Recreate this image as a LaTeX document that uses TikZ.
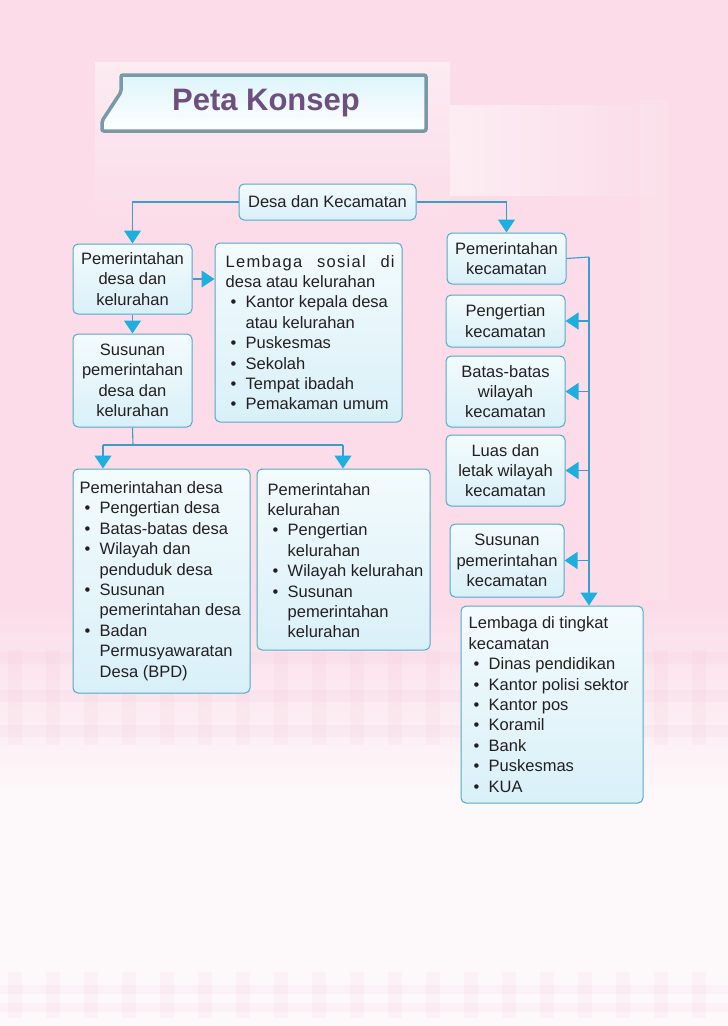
\documentclass[tikz,border=0pt]{standalone}
\usepackage{fontspec}
\setmainfont{Liberation Sans}
\usetikzlibrary{arrows.meta,calc}
\definecolor{pinkbg}{HTML}{FBDCE8}
\definecolor{pinklt}{HTML}{FDF9FB}
\definecolor{plaid}{HTML}{F3BFD3}
\definecolor{boxline}{HTML}{52AACB}
\definecolor{boxtop}{HTML}{F3FBFD}
\definecolor{boxbot}{HTML}{D9F0F8}
\definecolor{linec}{HTML}{3D9CC8}
\definecolor{arrc}{HTML}{1DB0DE}
\definecolor{txtc}{HTML}{231F20}
\definecolor{tabline}{HTML}{7A98A8}
\definecolor{tabfill}{HTML}{DDF5FB}
\definecolor{titlec}{HTML}{6E4F80}
\newcommand\bl{\hspace*{5pt}\makebox[15pt][l]{\textbullet}}
\newcommand\ii{\hspace*{20pt}}
\begin{document}
\begin{tikzpicture}[x=1pt,y=-1pt,
  box/.style={draw=boxline, line width=1pt, rounded corners=5pt, top color=boxtop, bottom color=boxbot, inner sep=0pt, text=txtc, align=center, font=\fontsize{16.5}{20.4}\selectfont},
  txt/.style={inner sep=0pt, align=left, text=txtc, font=\fontsize{16.5}{20.4}\selectfont},
  conn/.style={draw=linec, line width=1.1pt},
  arr/.style={conn, -{Triangle[width=17pt,length=13pt,color=arrc]}}]
% ---------- background ----------
\path[use as bounding box] (0,0) rectangle (728,1026);
\fill[pinkbg] (0,0) rectangle (728,1026);
\shade[top color=pinkbg, bottom color=pinklt] (0,600) rectangle (728,800);
\fill[pinklt] (0,800) rectangle (728,1026);
\shade[top color=white, bottom color=pinkbg, opacity=0.45] (95,62) rectangle (450,230);
\shade[left color=white, right color=pinkbg, opacity=0.5] (450,105) rectangle (665,195);
\fill[white, opacity=0.12] (640,100) rectangle (668,600);
\foreach \i in {0,...,19} {
  \fill[plaid, opacity=0.13] (8+38*\i,650) rectangle (22+38*\i,745);
  \fill[plaid, opacity=0.12] (8+38*\i,972) rectangle (22+38*\i,1018);
}
\foreach \yy in {652,690,725} {\fill[plaid, opacity=0.12] (0,\yy) rectangle (728,\yy+12);}
\foreach \yy in {985,1003} {\fill[plaid, opacity=0.12] (0,\yy) rectangle (728,\yy+9);}
% ---------- title tab ----------
\path[draw=tabline, line width=3.5pt, top color=tabfill, bottom color=white, rounded corners=2pt]
  (121,75) -- (426,75) -- (426,131) -- (102,131) -- (102,121) -- (121,92) -- cycle;
\node[text=titlec, font=\fontsize{31}{31}\bfseries] (title) at (266,103) {Peta Konsep};
% ---------- boxes ----------
\node[box, minimum width=177pt, minimum height=36pt] (dk) at (327.5,202) {Desa dan Kecamatan};
\node[box, minimum width=119pt, minimum height=70pt] (pdk) at (132.5,279) {Pemerintahan\\desa dan\\kelurahan};
\node[box, minimum width=187pt, minimum height=179pt] (ls) at (308.5,332.5) {};
\node[txt, anchor=west] (lst) at ([xshift=11pt]ls.west)
  {\makebox[169pt][s]{\addfontfeature{LetterSpace=8}Lembaga sosial di}\\
   desa atau kelurahan\\
   \bl Kantor kepala desa\\
   \ii atau kelurahan\\
   \bl Puskesmas\\
   \bl Sekolah\\
   \bl Tempat ibadah\\
   \bl Pemakaman umum};
\node[box, minimum width=119pt, minimum height=93pt] (spdk) at (132.5,380.5) {Susunan\\pemerintahan\\desa dan\\kelurahan};
\node[box, minimum width=177pt, minimum height=224pt] (pd) at (161.5,581) {};
\node[txt, anchor=west] (pdt) at ([xshift=7pt]pd.west)
  {Pemerintahan desa\\
   \bl Pengertian desa\\
   \bl Batas-batas desa\\
   \bl Wilayah dan\\
   \ii penduduk desa\\
   \bl Susunan\\
   \ii pemerintahan desa\\
   \bl Badan\\
   \ii Permusyawaratan\\
   \ii Desa (BPD)};
\node[box, minimum width=173pt, minimum height=181pt] (pk) at (343.5,559.5) {};
\node[txt, anchor=west] (pkt) at ([xshift=11pt,yshift=-1pt]pk.west)
  {Pemerintahan\\
   kelurahan\\
   \bl Pengertian\\
   \ii kelurahan\\
   \bl Wilayah kelurahan\\
   \bl Susunan\\
   \ii pemerintahan\\
   \ii kelurahan};
\node[box, minimum width=119pt, minimum height=51pt] (pkec) at (506.5,258.5) {Pemerintahan\\kecamatan};
\node[box, minimum width=119pt, minimum height=52pt] (pgk) at (505.5,321) {Pengertian\\kecamatan};
\node[box, minimum width=119pt, minimum height=71pt] (bbw) at (505.5,391.5) {Batas-batas\\wilayah\\kecamatan};
\node[box, minimum width=119pt, minimum height=71pt] (lwk) at (505.5,470.5) {Luas dan\\letak wilayah\\kecamatan};
\node[box, minimum width=114pt, minimum height=73pt] (spk) at (507,560.5) {Susunan\\pemerintahan\\kecamatan};
\node[box, minimum width=182pt, minimum height=197pt] (ltk) at (552,704.5) {};
\node[txt, anchor=west] (ltkt) at ([xshift=8pt]ltk.west)
  {Lembaga di tingkat\\
   kecamatan\\
   \bl Dinas pendidikan\\
   \bl Kantor polisi sektor\\
   \bl Kantor pos\\
   \bl Koramil\\
   \bl Bank\\
   \bl Puskesmas\\
   \bl KUA};
% ---------- connectors ----------
\coordinate (j1) at (133,445);
\coordinate (jl) at (103,445);
\coordinate (jr) at (343,445);
\coordinate (bus) at (589,257);
\draw[arr] (dk.west) -| (pdk.north);
\draw[arr] (dk.east) -| (pkec.north);
\draw[arr] (pdk.east) -- (pdk.east -| ls.west);
\draw[arr] (pdk.south) -- (spdk.north);
\draw[conn] (spdk.south) -- (j1);
\draw[conn] (jl) -- (jr);
\draw[arr] (jl) -- (jl |- pd.north);
\draw[arr] (jr) -- (jr |- pk.north);
\draw[conn] (pkec.east) -- (bus);
\draw[arr] (bus) -- (bus |- ltk.north);
\draw[arr] (bus |- pgk.east) -- (pgk.east);
\draw[arr] (bus |- bbw.east) -- (bbw.east);
\draw[arr] (bus |- lwk.east) -- (lwk.east);
\draw[arr] (bus |- spk.east) -- (spk.east);
\end{tikzpicture}
\end{document}
